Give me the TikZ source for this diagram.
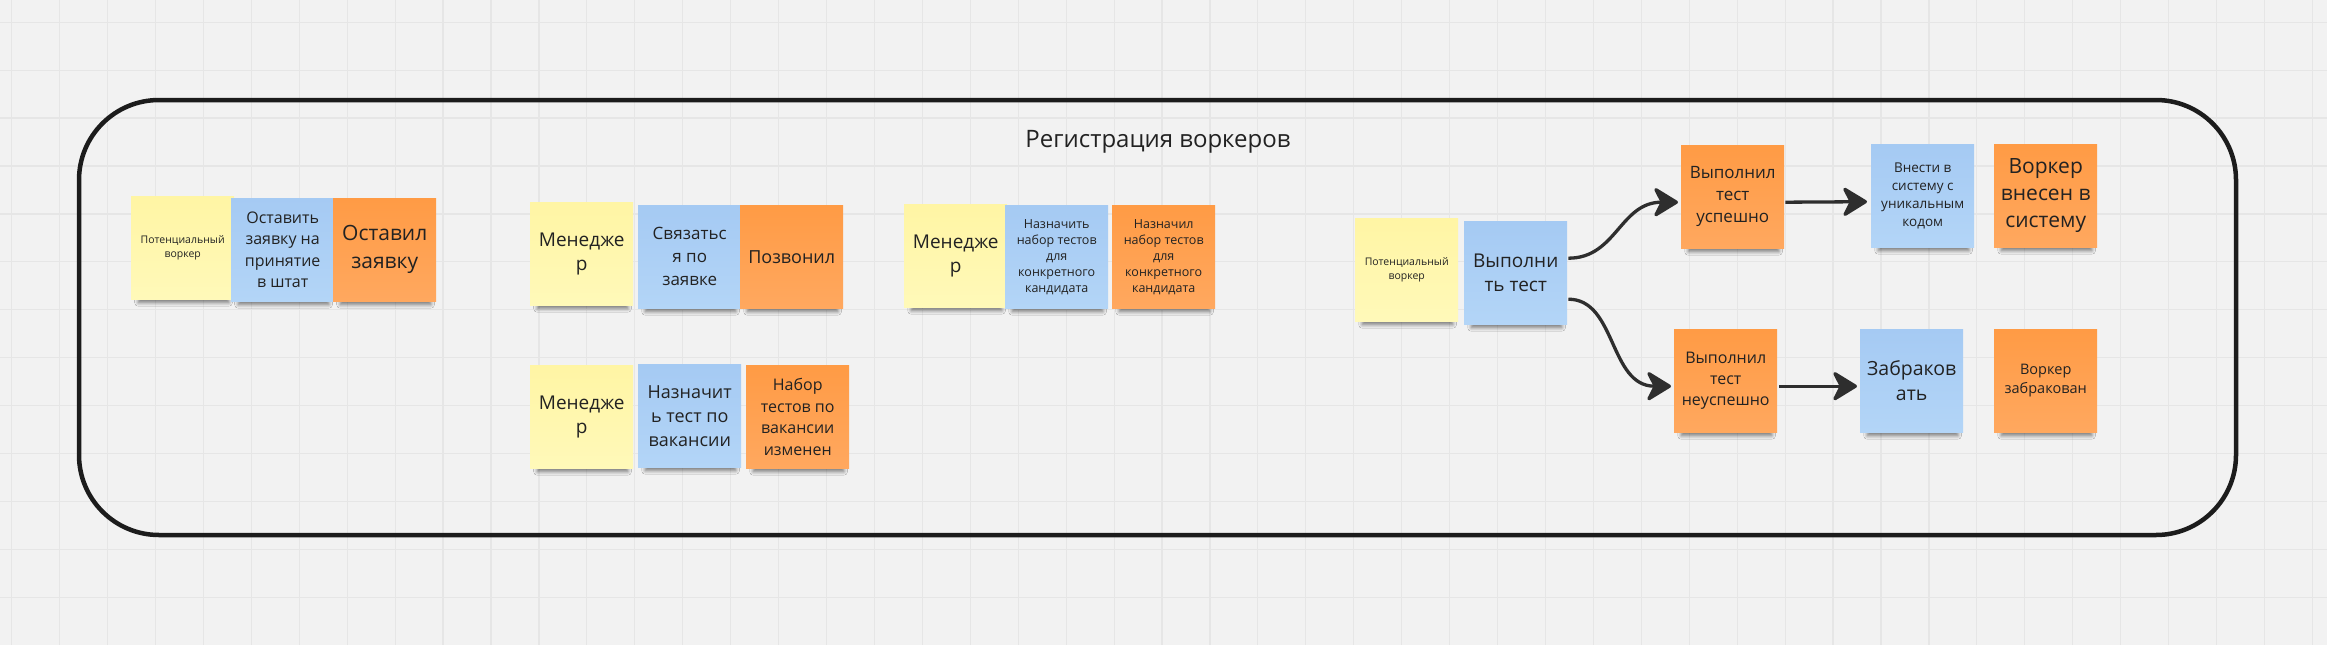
\documentclass[tikz,border=0pt]{standalone}
\usepackage{fontspec}
\setmainfont{Open Sans}
\usetikzlibrary{shadows.blur,arrows.meta,calc}

\definecolor{bg}{HTML}{F2F2F2}
\definecolor{gridc}{HTML}{E6E6E6}
\definecolor{ylwT}{HTML}{FFF5A4}
\definecolor{ylwB}{HTML}{FFF9B9}
\definecolor{bluT}{HTML}{A5CAF3}
\definecolor{bluB}{HTML}{B3D5F7}
\definecolor{orgT}{HTML}{FF9B45}
\definecolor{orgB}{HTML}{FFA85F}
\definecolor{framec}{HTML}{1C1C1C}
\definecolor{arrc}{HTML}{2E2E2E}
\definecolor{txt}{HTML}{222222}

\newcommand{\fsz}[2]{\fontsize{#1pt}{#2pt}\selectfont}

\begin{document}
\begin{tikzpicture}[x=1pt,y=-1pt,
  note/.style={anchor=north west, minimum width=103pt, minimum height=103pt,
    inner sep=0pt, align=center, text=txt,
    blur shadow={shadow xshift=1pt, shadow yshift=-11pt, shadow scale=0.88,
      shadow opacity=50, shadow blur steps=6, shadow blur radius=4pt}},
  ny/.style={note, top color=ylwT, bottom color=ylwB},
  nb/.style={note, top color=bluT, bottom color=bluB},
  no/.style={note, top color=orgT, bottom color=orgB},
  lanebox/.style={draw=framec, line width=4.5pt, rounded corners=80pt,
    minimum width=2157pt, minimum height=435pt, inner sep=0pt},
  flow/.style={draw=arrc, line width=3.3pt,
    -{Stealth[length=27.5pt, width=33.5pt, inset=8.5pt, round]}},
]
% background and grid
\fill[bg] (0,0) rectangle (2327,645);
\useasboundingbox (0,0) rectangle (2327,645);
\foreach \k in {0,...,48} {
  \draw[gridc, line width=1.2pt] ({11.7+47.93*\k},0) -- ({11.7+47.93*\k},645);
}
\foreach \k in {0,...,13} {
  \draw[gridc, line width=1.2pt] (0,{22.2+47.93*\k}) -- (2327,{22.2+47.93*\k});
}

% frame and title
\node[lanebox] (lane) at (1157.5,317.5) {};
\node[text=txt, font=\fsz{24}{30}, anchor=base] (title) at (1158,147) {Регистрация воркеров};

% column 1
\node[ny, font=\fsz{10.5}{14}] (y1) at (131,196) {Потенциальный\\воркер};
\node[nb, font=\fsz{16}{21.5}] (b1) at (231,198) {Оставить\\заявку на\\принятие\\в штат};
\node[no, font=\fsz{21}{28}] (o1) at (333,198) {Оставил\\заявку};

% column 2
\node[ny, font=\fsz{19}{24}] (y2) at (530,202) {Менедже\\р};
\node[nb, font=\fsz{17}{23}] (b2) at (638,205) {Связатьс\\я по\\заявке};
\node[no, font=\fsz{18}{24}] (o2) at (740,205) {Позвонил};

\node[ny, font=\fsz{19}{24}] (y3) at (530,365) {Менедже\\р};
\node[nb, font=\fsz{18}{24}] (b3) at (638,364) {Назначит\\ь тест по\\вакансии};
\node[no, font=\fsz{16}{21.5}] (o3) at (746,365) {Набор\\тестов по\\вакансии\\изменен};

% column 3
\node[ny, font=\fsz{19}{24}] (y4) at (904,204) {Менедже\\р};
\node[nb, font=\fsz{12.5}{16}] (b4) at (1005,205) {Назначить\\набор тестов\\для\\конкретного\\кандидата};
\node[no, font=\fsz{12.5}{16}] (o4) at (1112,205) {Назначил\\набор тестов\\для\\конкретного\\кандидата};

% column 4
\node[ny, font=\fsz{10.5}{14}] (y5) at (1355,218) {Потенциальный\\воркер};
\node[nb, font=\fsz{19}{24}] (b5) at (1464,221) {Выполни\\ть тест};

\node[no, font=\fsz{17}{22}] (o5) at (1681,145) {Выполнил\\тест\\успешно};
\node[nb, font=\fsz{13.5}{18}] (b6) at (1871,144) {Внести в\\систему с\\уникальным\\кодом};
\node[no, font=\fsz{21}{27}] (o6) at (1994,144) {Воркер\\внесен в\\систему};

\node[no, font=\fsz{16}{21}] (o7) at (1674,329) {Выполнил\\тест\\неуспешно};
\node[nb, font=\fsz{19.5}{25}] (b7) at (1860,329) {Забраков\\ать};
\node[no, font=\fsz{14.5}{19}] (o8) at (1994,329) {Воркер\\забракован};

% connectors
\draw[flow] ($(b5.east)+(1,-14.5)$) .. controls +(48,0) and +(-58,0) .. ($(o5.west)+(-3,5.5)$);
\draw[flow] ($(b5.east)+(1,26.5)$) .. controls +(48,0) and +(-62,0) .. ($(o7.west)+(-3,5.5)$);
\draw[flow] ($(o5.east)+(1,5.5)$) -- ($(b6.west)+(-4,6)$);
\draw[flow] ($(o7.east)+(2,5.5)$) -- ($(b7.west)+(-3,5.5)$);
\end{tikzpicture}
\end{document}
